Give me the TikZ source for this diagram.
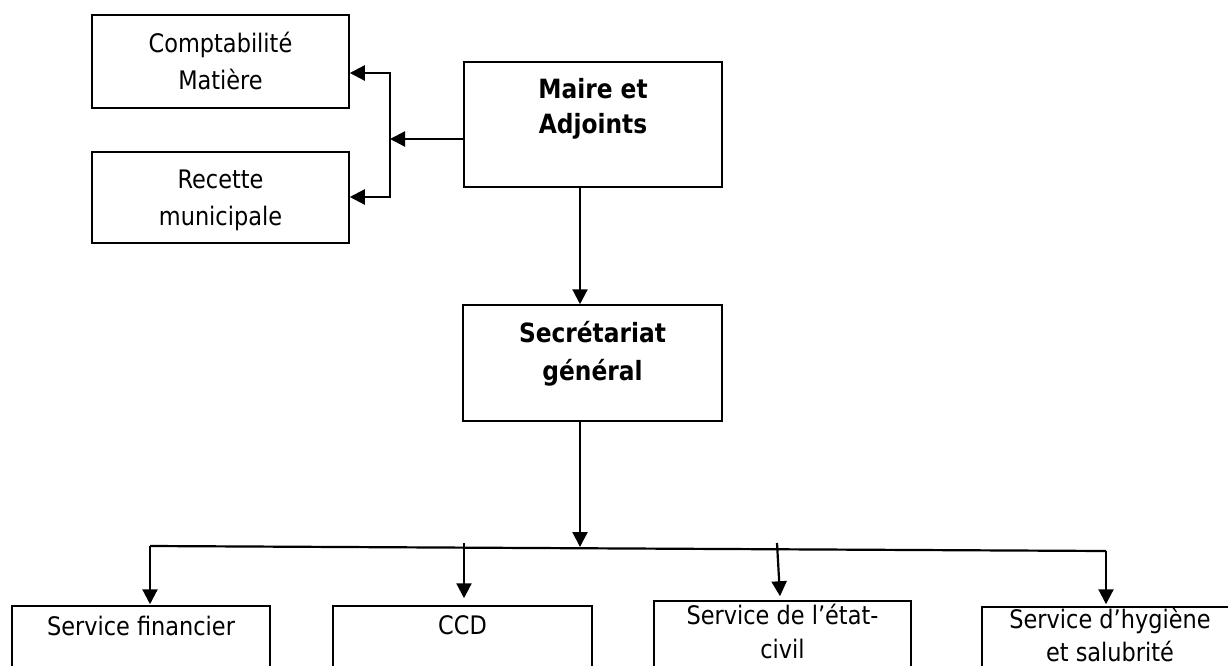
\documentclass[tikz,border=0pt]{standalone}
\usepackage{fontspec}
\setmainfont{DejaVu Sans}[FakeStretch=0.88]
\usetikzlibrary{arrows.meta}
\begin{document}
\begin{tikzpicture}[x=1pt,y=-1pt,
  box/.style={draw, line width=1.5pt, rectangle, inner sep=0pt},
  lbl/.style={anchor=base, inner sep=0pt, font=\fontsize{25.5}{30}\selectfont},
  blbl/.style={lbl, font=\fontsize{26.5}{30}\selectfont\bfseries},
  conn/.style={line width=2.2pt},
  arr/.style={conn, -{Triangle[length=15pt,width=15pt]}}]
\useasboundingbox (0,0) rectangle (1228,666);
\clip (0,0) rectangle (1228,666);
% boxes
\node[box, minimum width=257pt, minimum height=93pt] (comp) at (220.5,61.5) {};
\node[box, minimum width=257pt, minimum height=91pt] (rec) at (220.5,197.5) {};
\node[box, minimum width=258pt, minimum height=125pt] (maire) at (593,124.5) {};
\node[box, minimum width=259pt, minimum height=116pt] (sec) at (592.5,363) {};
\node[box, minimum width=258pt, minimum height=140pt] (fin) at (141,676) {};
\node[box, minimum width=259pt, minimum height=140pt] (ccd) at (462.5,676) {};
\node[box, minimum width=257pt, minimum height=150pt] (etat) at (782.5,676) {};
\node[box, minimum width=256pt, minimum height=140pt] (hyg) at (1110,677) {};
% texts
\node[lbl] (compA) at (220.5,53) {Comptabilité};
\node[lbl] (compB) at (220.5,90) {Matière};
\node[lbl] (recA) at (220.5,188) {Recette};
\node[lbl] (recB) at (220.5,225) {municipale};
\node[blbl] (maireA) at (593,99) {Maire et};
\node[blbl] (maireB) at (593,134) {Adjoints};
\node[blbl] (secA) at (592.5,342) {Secrétariat};
\node[blbl] (secB) at (592.5,380) {général};
\node[lbl] (finA) at (141,635) {Service financier};
\node[lbl] (ccdA) at (462.5,634) {CCD};
\node[lbl] (etatA) at (782.5,624) {Service de l’état-};
\node[lbl] (etatB) at (782.5,658) {civil};
\node[lbl] (hygA) at (1110,628) {Service d’hygiène};
\node[lbl] (hygB) at (1110,661) {et salubrité};
% left connectors
\coordinate (jL) at (390,139);
\coordinate (jT) at (390,73);
\coordinate (jB) at (390,197);
\draw[arr] (maire.west |- jL) -- (jL);
\draw[arr] (jB) -- (jT) -- (comp.east |- jT);
\draw[arr] (jT) -- (jB) -- (rec.east |- jB);
% vertical spine
\coordinate (xa) at (580,0);
\draw[arr] (maire.south -| xa) -- (sec.north -| xa);
\coordinate (busM) at (580,547);
\draw[arr] (sec.south -| xa) -- (busM);
% bus
\coordinate (busL) at (150,546);
\coordinate (busR) at (1106,551);
\draw[conn, line join=miter] (busL) -- (busR);
\draw[arr] (busL) -- ([yshift=1pt]fin.north -| busL);
\coordinate (c1) at (464,543);
\draw[arr] (c1) -- ([yshift=7pt]ccd.north -| c1);
\coordinate (e1) at (777,543);
\coordinate (e2) at (780,0);
\draw[arr] (e1) -- ([yshift=4pt]etat.north -| e2);
\draw[arr] (busR) -- ([yshift=2pt]hyg.north -| busR);
\end{tikzpicture}
\end{document}
